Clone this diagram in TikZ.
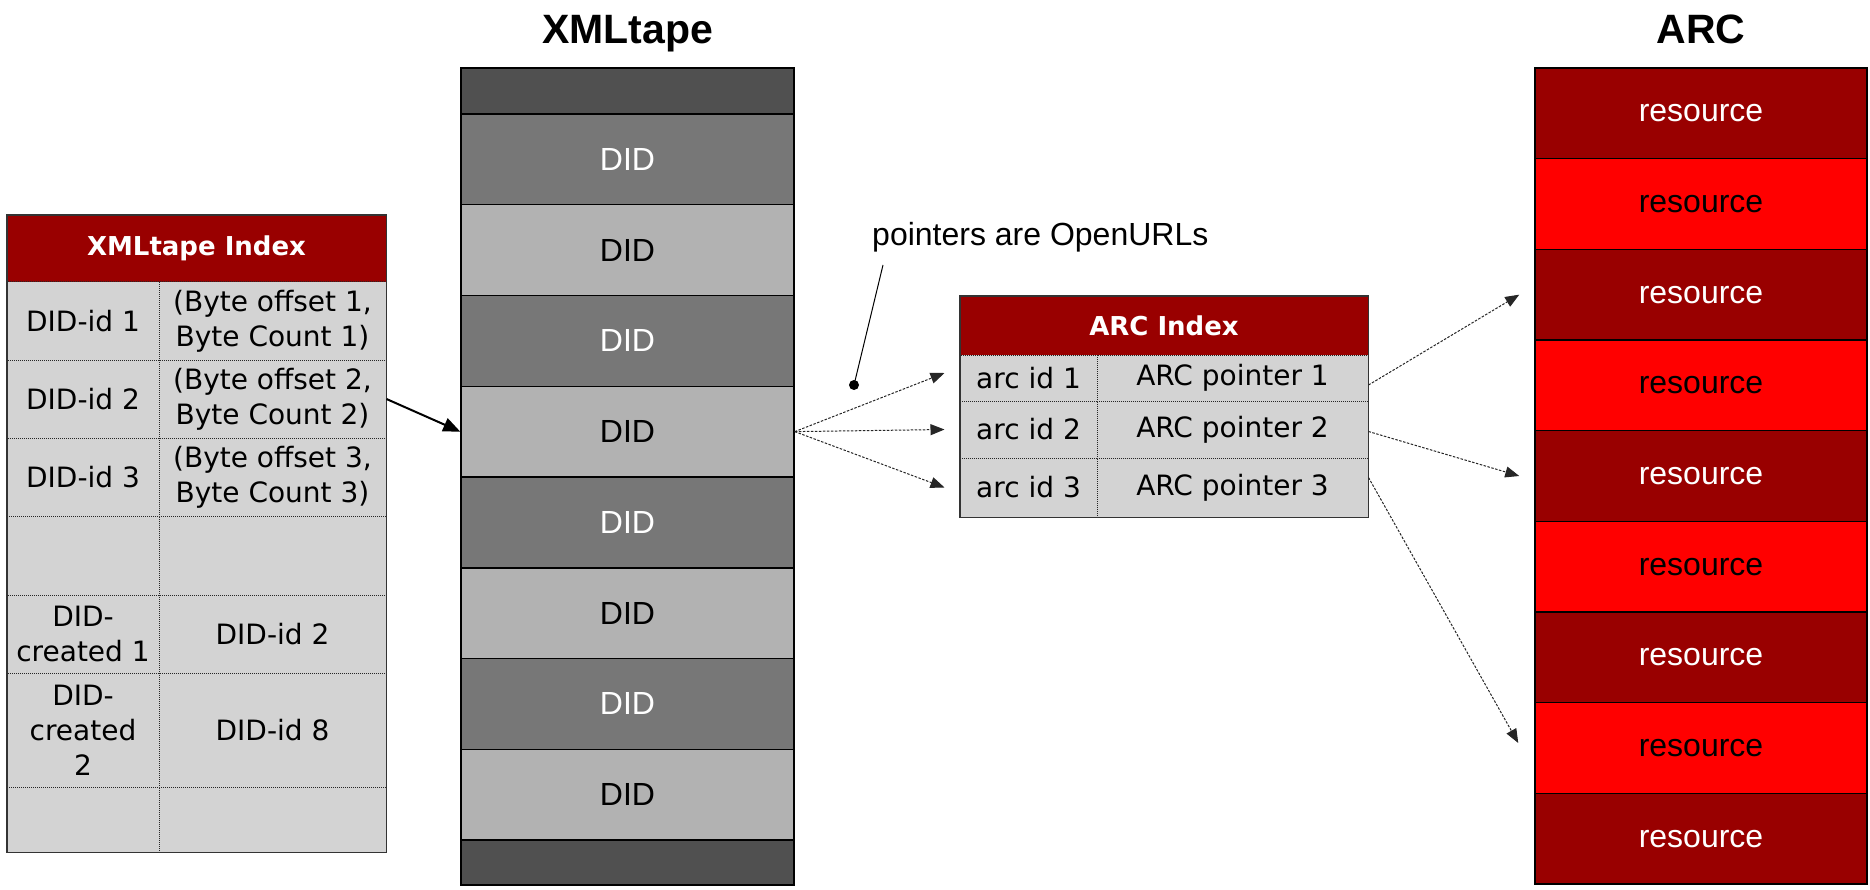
\documentclass[tikz,border=0pt]{standalone}
\usepackage{fontspec}
\setmainfont{Liberation Sans}
\newfontfamily\comicfont{DejaVu Sans}
\usetikzlibrary{arrows.meta}
\definecolor{darkred}{HTML}{990000}
\definecolor{brightred}{HTML}{FF0000}
\definecolor{tapecapc}{HTML}{505050}
\definecolor{tapedarkc}{HTML}{777777}
\definecolor{tapelightc}{HTML}{B2B2B2}
\definecolor{cellgray}{HTML}{D3D3D3}
\tikzset{
  tapeseg/.style={draw=black,line width=1.5pt,minimum width=333pt,minimum height=90.75pt,
                  inner sep=0pt,font=\fontsize{32}{37}\selectfont},
  tapecap/.style={tapeseg,fill=tapecapc},
  tapedark/.style={tapeseg,fill=tapedarkc,text=white},
  tapelight/.style={tapeseg,fill=tapelightc,text=black},
  resseg/.style={draw=black,line width=1.5pt,minimum width=332pt,minimum height=90.67pt,
                 inner sep=0pt,font=\fontsize{32}{37}\selectfont},
  resdark/.style={resseg,fill=darkred,text=white},
  resbright/.style={resseg,fill=brightred,text=black},
  cell/.style={draw=black!85,densely dotted,line width=1pt,fill=cellgray,inner sep=0pt,
               align=center,font=\comicfont\fontsize{28}{35}\selectfont},
  idxhead/.style={fill=darkred,inner sep=0pt,text=white,
                  font=\comicfont\bfseries\fontsize{26}{30}\selectfont},
  frame/.style={draw=black!80,line width=1.5pt},
  title/.style={anchor=base,font=\bfseries\fontsize{41}{46}\selectfont},
  ptr/.style={black!85,line width=1pt,dash pattern=on 2.5pt off 1.5pt,
              -{Triangle[length=14pt,width=11pt]}},
}
\begin{document}
\begin{tikzpicture}[x=1pt,y=-1pt]
\useasboundingbox (0,0) rectangle (1870,890);

\node[title] (tapetitle) at (627.5,44) {XMLtape};
\node[title] (arctitle) at (1701,44) {ARC};

% the tape
\node[tapecap,minimum height=46pt] (captop) at (627.5,91) {};
\node[tapedark] (did1) at (627.5,159.375) {DID};
\node[tapelight] (did2) at (627.5,250.125) {DID};
\node[tapedark] (did3) at (627.5,340.875) {DID};
\node[tapelight] (did4) at (627.5,431.625) {DID};
\node[tapedark] (did5) at (627.5,522.375) {DID};
\node[tapelight] (did6) at (627.5,613.125) {DID};
\node[tapedark] (did7) at (627.5,703.875) {DID};
\node[tapelight] (did8) at (627.5,794.625) {DID};
\node[tapecap,minimum height=45pt] (capbot) at (627.5,862.5) {};

% the archive
\node[resdark] (res1) at (1701,113.33) {resource};
\node[resbright] (res2) at (1701,204) {resource};
\node[resdark] (res3) at (1701,294.67) {resource};
\node[resbright] (res4) at (1701,385.33) {resource};
\node[resdark] (res5) at (1701,476) {resource};
\node[resbright] (res6) at (1701,566.67) {resource};
\node[resdark] (res7) at (1701,657.33) {resource};
\node[resbright] (res8) at (1701,748) {resource};
\node[resdark] (res9) at (1701,838.67) {resource};

% XMLtape index table
\node[idxhead,minimum width=379pt,minimum height=67pt] (tapeidx) at (196.5,248.5) {XMLtape Index};
\node[cell,minimum width=152pt,minimum height=78pt] (key1) at (83,321) {DID-id 1};
\node[cell,minimum width=227pt,minimum height=78pt] (off1) at (272.5,321) {(Byte offset 1,\\Byte Count 1)};
\node[cell,minimum width=152pt,minimum height=78pt] (key2) at (83,399) {DID-id 2};
\node[cell,minimum width=227pt,minimum height=78pt] (off2) at (272.5,399) {(Byte offset 2,\\Byte Count 2)};
\node[cell,minimum width=152pt,minimum height=78pt] (key3) at (83,477) {DID-id 3};
\node[cell,minimum width=227pt,minimum height=78pt] (off3) at (272.5,477) {(Byte offset 3,\\Byte Count 3)};
\node[cell,minimum width=152pt,minimum height=79pt] (blank1a) at (83,555.5) {};
\node[cell,minimum width=227pt,minimum height=79pt] (blank1b) at (272.5,555.5) {};
\node[cell,minimum width=152pt,minimum height=78pt] (made1) at (83,634) {DID-\\created 1};
\node[cell,minimum width=227pt,minimum height=78pt] (madeid1) at (272.5,634) {DID-id 2};
\node[cell,minimum width=152pt,minimum height=114pt] (made2) at (83,730) {DID-\\created\\2};
\node[cell,minimum width=227pt,minimum height=114pt] (madeid2) at (272.5,730) {DID-id 8};
\node[cell,minimum width=152pt,minimum height=65pt] (blank2a) at (83,819.5) {};
\node[cell,minimum width=227pt,minimum height=65pt] (blank2b) at (272.5,819.5) {};
\draw[frame] (tapeidx.north west) rectangle (blank2b.south east);

% ARC index table
\node[idxhead,minimum width=408pt,minimum height=59pt] (arcidx) at (1164,325.5) {ARC Index};
\node[cell,minimum width=137pt,minimum height=46pt] (arcid1) at (1028.5,378) {arc id 1};
\node[cell,minimum width=271pt,minimum height=46pt] (arcptr1) at (1232.5,378) {ARC pointer 1};
\node[cell,minimum width=137pt,minimum height=57pt] (arcid2) at (1028.5,429.5) {arc id 2};
\node[cell,minimum width=271pt,minimum height=57pt] (arcptr2) at (1232.5,429.5) {ARC pointer 2};
\node[cell,minimum width=137pt,minimum height=59pt] (arcid3) at (1028.5,487.5) {arc id 3};
\node[cell,minimum width=271pt,minimum height=59pt] (arcptr3) at (1232.5,487.5) {ARC pointer 3};
\draw[frame] (arcidx.north west) rectangle (arcptr3.south east);

% note on the pointers
\node[anchor=base west,inner sep=0pt,font=\fontsize{32}{37}\selectfont] (ptrnote) at (872,246) {pointers are OpenURLs};
\coordinate (notefoot) at (883,265);
\node[circle,fill=black,inner sep=0pt,minimum size=10pt] (notedot) at (854,385) {};
\draw[line width=1pt] (notefoot) -- (notedot.center);

% lookups
\draw[line width=2pt,-{Triangle[length=17pt,width=14pt]}] (off2.east) -- (did4.west);
\draw[ptr] (did4.east) -- ([xshift=-15pt,yshift=5pt]arcid1.west);
\draw[ptr] (did4.east) -- ([xshift=-15pt]arcid2.west);
\draw[ptr] (did4.east) -- ([xshift=-15pt]arcid3.west);
\draw[ptr] ([yshift=-7pt]arcptr1.east) -- ([xshift=-15pt]res3.west);
\draw[ptr] ([yshift=-2pt]arcptr2.east) -- ([xshift=-15pt]res5.west);
\draw[ptr] ([yshift=10pt]arcptr3.east) -- ([xshift=-16pt,yshift=5pt]res8.west);
\end{tikzpicture}
\end{document}
